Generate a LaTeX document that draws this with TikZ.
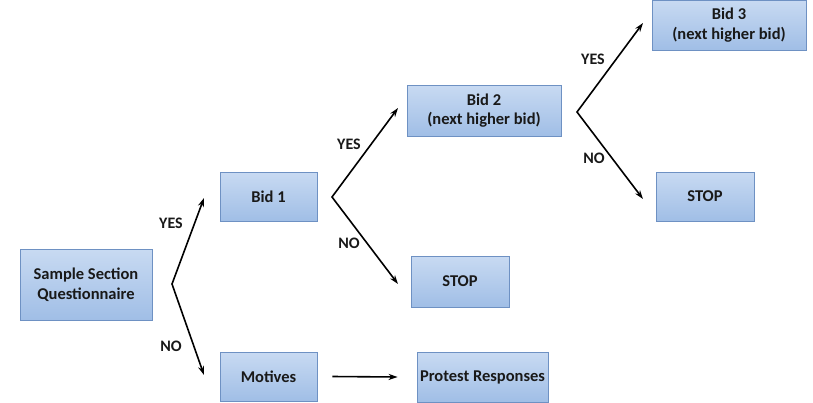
\documentclass[tikz,border=0pt]{standalone}
\usepackage{fontspec}
\setmainfont{Carlito}
\usetikzlibrary{arrows.meta}
\definecolor{boxtop}{RGB}{200,218,242}
\definecolor{boxbot}{RGB}{160,190,230}
\definecolor{boxline}{RGB}{110,145,195}
\begin{document}
\begin{tikzpicture}[x=1pt,y=1pt,
  box/.style={draw=boxline,line width=0.8pt,top color=boxtop,bottom color=boxbot,
    inner sep=0pt,align=center,text=black!90,font=\bfseries\fontsize{16.5}{19.5}\selectfont},
  lab/.style={text=black!90,font=\bfseries\fontsize{16}{19}\selectfont},
  arr/.style={-{Stealth[length=9pt,width=6pt]},line width=1.6pt},
  fork/.style={{Stealth[length=9pt,width=6pt]}-{Stealth[length=9pt,width=6pt]},line width=1.6pt}]
  \useasboundingbox (0,0) rectangle (813,-402);
  % boxes
  \node[box,minimum width=132,minimum height=71] (sample) at (86,-284.5) {Sample Section\\Questionnaire};
  \node[box,minimum width=97,minimum height=49] (bid1) at (268.5,-196.5) {Bid 1};
  \node[box,minimum width=97,minimum height=49] (motives) at (268.5,-376.5) {Motives};
  \node[box,minimum width=154,minimum height=51] (bid2) at (484,-110.5) {Bid 2\\(next higher bid)};
  \node[box,minimum width=98,minimum height=51] (stop1) at (460,-281.5) {STOP};
  \node[box,minimum width=131,minimum height=50] (protest) at (482.5,-377) {Protest Responses};
  \node[box,minimum width=154,minimum height=50] (bid3) at (729,-25) {Bid 3\\(next higher bid)};
  \node[box,minimum width=98,minimum height=49] (stop2) at (705,-196.5) {STOP};
  % forks
  \coordinate (f1) at (172,-284);
  \coordinate (f1y) at (204,-198);
  \coordinate (f1n) at (204,-375);
  \coordinate (f2) at (332,-197);
  \coordinate (f2y) at (398,-108);
  \coordinate (f2n) at (398,-284);
  \coordinate (f3) at (577,-112);
  \coordinate (f3y) at (643,-23);
  \coordinate (f3n) at (643,-199);
  \draw[fork] (f1y) -- (f1) -- (f1n);
  \draw[fork] (f2y) -- (f2) -- (f2n);
  \draw[fork] (f3y) -- (f3) -- (f3n);
  \draw[arr] ([xshift=15pt]motives.east) -- ([xshift=-19pt]protest.west);
  % labels
  \node[lab] (y1) at (171,-223) {YES};
  \node[lab] (n1) at (171,-346) {NO};
  \node[lab] (y2) at (349,-144) {YES};
  \node[lab] (n2) at (349,-243) {NO};
  \node[lab] (y3) at (593,-59) {YES};
  \node[lab] (n3) at (594,-158) {NO};
\end{tikzpicture}
\end{document}
